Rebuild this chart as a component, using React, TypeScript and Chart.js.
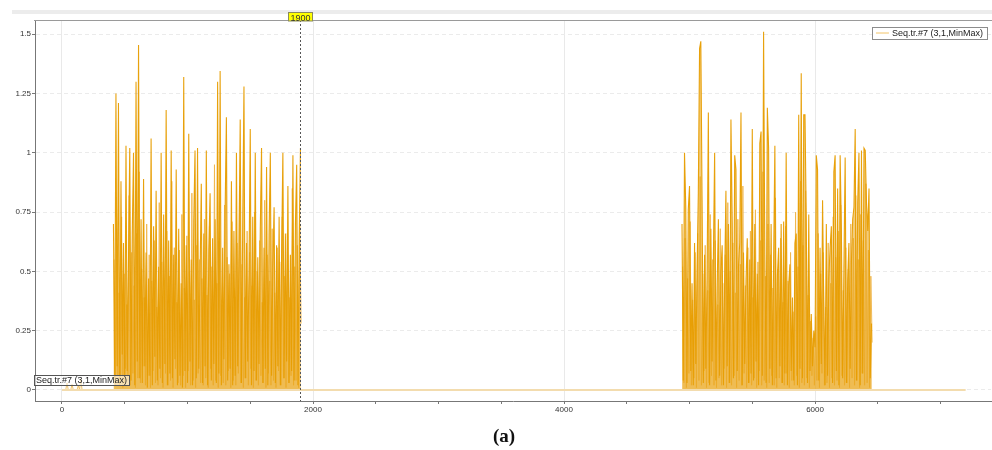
import React, { useEffect, useRef } from 'react';
import { Chart, registerables } from 'chart.js';

Chart.register(...registerables);

// ---- data ----
const seriesName = 'Seq.tr.#7 (3,1,MinMax)';
const sampleStep = 10;

const preStart = 0;
const preValues = [
  0, 0, 0, 0, 0.03, 0, 0, 0, 0.025, 0, 0, 0, 0, 0.02, 0, 0.045, 0, 0, 0, 0,
  0, 0, 0, 0, 0, 0, 0, 0, 0, 0, 0, 0, 0, 0, 0, 0, 0, 0, 0, 0, 0,
];

// max envelope (darker trace)
const burst1Start = 410;
const burst1Values = [
  0.70, 0.05, 1.25, 0.10, 1.21, 0.02, 0.88, 0.15, 0.62, 0.03,
  1.03, 0.08, 0.55, 1.02, 0.04, 0.66, 1.00, 0.02, 1.30, 0.12,
  1.455, 0.05, 0.72, 0.03, 0.89, 0.10, 0.58, 0.01, 0.47, 0.06,
  1.06, 0.02, 0.69, 0.14, 0.84, 0.04, 0.52, 0.09, 1.00, 0.03,
  0.74, 0.11, 1.18, 0.02, 0.63, 0.07, 1.01, 0.05, 0.57, 0.13,
  0.93, 0.02, 0.68, 0.06, 0.45, 0.01, 1.32, 0.08, 0.61, 0.03,
  1.08, 0.12, 0.55, 0.02, 0.71, 1.01, 0.05, 1.02, 0.09, 0.48,
  0.87, 0.03, 0.66, 0.10, 1.01, 0.02, 0.59, 0.83, 0.04, 0.64,
  0.11, 0.72, 0.03, 1.30, 0.07, 1.345, 0.02, 0.60, 0.13, 0.76,
  1.15, 0.04, 0.53, 0.09, 0.88, 0.02, 0.67, 0.06, 1.00, 0.10,
  0.58, 1.14, 0.03, 0.70, 1.28, 0.05, 0.62, 0.12, 0.49, 1.10,
  0.02, 0.73, 0.08, 1.00, 0.04, 0.56, 0.11, 0.68, 1.02, 0.03,
  0.60, 0.09, 0.94, 0.02, 0.65, 1.00, 0.06, 0.52, 0.77, 0.03,
  0.61, 0.10, 0.73, 0.02, 0.58, 1.00, 0.05, 0.66, 0.12, 0.86,
  0.03, 0.57, 0.08, 0.99, 0.04, 0.70, 0.95, 0.02, 0.63, 1.02,
];

const burst2Start = 4940;
const burst2Values = [
  0.70, 0.04, 1.00, 0.77, 0.03, 0.76, 0.86, 0.08, 0.45, 0.02,
  0.62, 0.11, 0.50, 0.83, 1.44, 1.47, 0.80, 0.03, 0.57, 0.09,
  0.48, 1.17, 0.02, 0.68, 0.12, 0.55, 1.00, 0.04, 0.43, 0.72,
  0.06, 0.50, 0.61, 0.02, 0.47, 0.84, 0.10, 0.70, 0.03, 1.14,
  0.71, 0.05, 0.99, 0.93, 0.08, 0.52, 0.62, 1.17, 0.02, 0.58,
  0.11, 0.46, 0.64, 0.03, 0.55, 0.07, 1.10, 0.04, 0.70, 0.12,
  0.49, 0.02, 1.04, 1.09, 0.06, 1.51, 0.57, 0.03, 1.19, 1.02,
  0.09, 0.70, 0.02, 0.54, 1.03, 0.05, 0.48, 0.60, 0.10, 0.70,
  0.03, 0.71, 0.07, 1.00, 0.02, 0.44, 0.53, 0.08, 0.39, 0.04,
  0.62, 0.66, 0.02, 1.16, 0.09, 1.335, 0.05, 1.16, 1.16, 0.72,
  0.03, 0.74, 0.08, 0.32, 0.10, 0.25, 0.18, 0.99, 0.93, 0.04,
  0.60, 0.11, 0.80, 0.35, 0.02, 0.70, 0.06, 0.47, 0.60, 0.69,
  0.03, 0.92, 0.99, 0.08, 0.85, 0.02, 0.99, 0.67, 0.05, 0.51,
  0.98, 0.03, 0.46, 0.62, 0.09, 0.54, 0.72, 0.77, 1.10, 0.04,
  0.79, 1.00, 0.02, 1.01, 0.07, 1.02, 1.01, 0.79, 0.67, 0.85,
  0.05, 0.28,
];

// interleaved lighter trace
const burst1bStart = 415;
const burst1bValues = [
  0.55, 0.02, 0.68, 0.06, 0.41, 0.03, 0.73, 0.01, 0.49, 0.09,
  0.36, 0.04, 0.82, 0.02, 0.58, 0.07, 0.44, 0.01, 0.66, 0.05,
  0.92, 0.03, 0.51, 0.10, 0.39, 0.02, 0.70, 0.06, 0.57, 0.01,
  0.46, 0.08, 0.63, 0.03, 0.35, 0.02, 0.79, 0.05, 0.54, 0.01,
  0.42, 0.07, 0.67, 0.02, 0.48, 0.04, 0.88, 0.01, 0.60, 0.09,
  0.37, 0.03, 0.59, 0.02, 0.74, 0.06, 0.43, 0.01, 0.65, 0.08,
  0.50, 0.02, 0.83, 0.04, 0.38, 0.01, 0.61, 0.07, 0.55, 0.03,
  0.47, 0.02, 0.72, 0.05, 0.40, 0.01, 0.69, 0.09, 0.52, 0.02,
  0.95, 0.04, 0.45, 0.01, 0.64, 0.06, 0.36, 0.03, 0.78, 0.02,
  0.56, 0.08, 0.49, 0.01, 0.71, 0.04, 0.42, 0.02, 0.62, 0.07,
  0.86, 0.03, 0.53, 0.01, 0.39, 0.05, 0.67, 0.02, 0.58, 0.09,
  0.44, 0.01, 0.75, 0.04, 0.50, 0.02, 0.63, 0.06, 0.37, 0.03,
  0.80, 0.01, 0.57, 0.07, 0.46, 0.02, 0.68, 0.04, 0.41, 0.01,
  0.60, 0.08, 0.54, 0.02, 0.73, 0.05, 0.48, 0.01, 0.66, 0.03,
  0.39, 0.06, 0.85, 0.02, 0.52, 0.04, 0.61, 0.01, 0.70, 0.28,
];

const burst2bStart = 4945;
const burst2bValues = [
  0.52, 0.03, 0.64, 0.01, 0.47, 0.07, 0.71, 0.02, 0.38, 0.05,
  0.58, 0.01, 0.66, 0.04, 0.90, 0.02, 0.49, 0.08, 0.61, 0.01,
  0.42, 0.03, 0.74, 0.06, 0.55, 0.02, 0.63, 0.01, 0.36, 0.05,
  0.68, 0.02, 0.45, 0.09, 0.57, 0.01, 0.79, 0.03, 0.50, 0.02,
  0.62, 0.06, 0.41, 0.01, 0.72, 0.04, 0.53, 0.02, 0.86, 0.07,
  0.44, 0.01, 0.60, 0.03, 0.67, 0.02, 0.39, 0.05, 0.76, 0.01,
  0.54, 0.08, 0.63, 0.02, 0.92, 0.04, 0.48, 0.01, 0.70, 0.03,
  0.57, 0.06, 0.43, 0.02, 0.81, 0.01, 0.51, 0.05, 0.64, 0.03,
  0.37, 0.02, 0.69, 0.07, 0.46, 0.01, 0.58, 0.04, 0.33, 0.02,
  0.75, 0.06, 0.52, 0.01, 0.88, 0.03, 0.61, 0.02, 0.84, 0.05,
  0.40, 0.01, 0.29, 0.06, 0.22, 0.02, 0.31, 0.04, 0.66, 0.01,
  0.49, 0.07, 0.58, 0.02, 0.35, 0.03, 0.62, 0.01, 0.45, 0.05,
  0.73, 0.02, 0.56, 0.04, 0.67, 0.01, 0.78, 0.06, 0.42, 0.02,
  0.60, 0.03, 0.51, 0.01, 0.70, 0.05, 0.64, 0.02, 0.82, 0.04,
  0.55, 0.01, 0.74, 0.07, 0.63, 0.02, 0.87, 0.03, 0.59, 0.01,
  0.48, 0.20,
];

const baselineXs = [0, 7200];
const baselineYs = [0, 0];
const markerX = 1900;
const markerLabel = '1900';
const xRange = [-215, 7402];
const yRange = [-0.0464, 1.56];
const xTickValues = [0, 500, 1000, 1500, 2000, 2500, 3000, 3500, 4000, 4500, 5000, 5500, 6000, 6500, 7000];
const xTickLabels = ['0', '', '', '', '2000', '', '', '', '4000', '', '', '', '6000', '', ''];
const yTickValues = [0, 0.25, 0.5, 0.75, 1, 1.25, 1.5];
const yTickLabels = ['0', '0.25', '0.5', '0.75', '1', '1.25', '1.5'];
const captionText = 'a';

const toPoints = (start: number, vals: number[]) =>
  vals.map((v, i) => ({ x: start + i * sampleStep, y: v }));

export default function App() {
  const ref = useRef<HTMLCanvasElement | null>(null);

  useEffect(() => {
    if (!ref.current) return;
    document.body.style.margin = '0';

    const overlay = {
      id: 'overlay',
      beforeDraw(chart: any) {
        const ctx = chart.ctx;
        ctx.save();
        ctx.fillStyle = '#ffffff';
        ctx.fillRect(0, 0, chart.width, chart.height);
        ctx.restore();
      },
      afterDatasetsDraw(chart: any) {
        const ctx = chart.ctx;
        const { left, right, top, bottom } = chart.chartArea;
        const xs = chart.scales.x;
        ctx.save();
        // top band
        ctx.fillStyle = '#ececec';
        ctx.fillRect(12, 10, chart.width - 12, 4);
        // top border
        ctx.strokeStyle = '#9a9a9a';
        ctx.lineWidth = 1;
        ctx.beginPath();
        ctx.moveTo(left - 1, top + 0.5);
        ctx.lineTo(chart.width, top + 0.5);
        ctx.stroke();
        // marker line
        const mx = Math.round(xs.getPixelForValue(markerX)) + 0.5;
        ctx.strokeStyle = '#555555';
        ctx.setLineDash([2, 2]);
        ctx.beginPath();
        ctx.moveTo(mx, top);
        ctx.lineTo(mx, bottom);
        ctx.stroke();
        ctx.setLineDash([]);
        // marker label
        ctx.font = '9px "Liberation Sans"';
        const tw = ctx.measureText(markerLabel).width;
        const bw = tw + 4;
        ctx.fillStyle = '#ffff00';
        ctx.fillRect(mx - bw / 2, 12.5, bw, 8.5);
        ctx.strokeStyle = '#8a8a5a';
        ctx.strokeRect(Math.round(mx - bw / 2) + 0.5, 12.5, Math.round(bw), 8.5);
        ctx.save();
        ctx.beginPath();
        ctx.rect(mx - bw / 2, 13, bw, 8);
        ctx.clip();
        ctx.fillStyle = '#333';
        ctx.textAlign = 'center';
        ctx.textBaseline = 'alphabetic';
        ctx.fillText(markerLabel, mx, 20.5);
        ctx.restore();

        // legend box top-right
        ctx.font = '9px "Liberation Sans"';
        const lw = ctx.measureText(seriesName).width;
        const lbx = right - 4 - (lw + 24);
        const lby = top + 7.5;
        ctx.fillStyle = '#ffffff';
        ctx.fillRect(lbx, lby, lw + 24, 12);
        ctx.strokeStyle = '#8c8c8c';
        ctx.strokeRect(Math.round(lbx) + 0.5, lby, Math.round(lw + 24), 12);
        ctx.strokeStyle = '#f2c469';
        ctx.beginPath();
        ctx.moveTo(lbx + 4, lby + 5.5);
        ctx.lineTo(lbx + 17, lby + 5.5);
        ctx.stroke();
        ctx.fillStyle = '#222';
        ctx.textAlign = 'left';
        ctx.textBaseline = 'middle';
        ctx.fillText(seriesName, lbx + 20, lby + 6.5);

        // bottom-left label
        const bx = left - 1;
        const by = bottom - 26;
        ctx.fillStyle = 'rgba(255,255,255,0.6)';
        ctx.fillRect(bx, by, lw + 4, 10);
        ctx.strokeStyle = '#555';
        ctx.strokeRect(Math.round(bx) + 0.5, by + 0.5, Math.round(lw + 4), 10);
        ctx.fillStyle = '#222';
        ctx.fillText(seriesName, bx + 2, by + 5.8);

        // caption
        ctx.fillStyle = '#111';
        ctx.textBaseline = 'alphabetic';
        ctx.textAlign = 'center';
        ctx.font = 'bold 19px "Liberation Serif"';
        ctx.fillText('(' + captionText + ')', 504, 442);
        ctx.restore();
      },
    };

    const mainStyle = {
      borderColor: 'rgba(231,157,0,0.95)',
      backgroundColor: 'rgba(234,163,14,0.55)',
      borderWidth: 1.1,
      pointRadius: 0,
      fill: 'origin',
    };
    const lightStyle = {
      borderColor: 'rgba(238,180,70,0.85)',
      backgroundColor: 'rgba(238,178,60,0.45)',
      borderWidth: 1,
      pointRadius: 0,
      fill: 'origin',
    };

    const chart = new Chart(ref.current, {
      type: 'line',
      data: {
        datasets: [
          {
            label: 'baseline',
            data: baselineXs.map((x, i) => ({ x, y: baselineYs[i] })),
            borderColor: '#f3dcae',
            borderWidth: 2,
            pointRadius: 0,
          },
          {
            label: 'pre',
            data: toPoints(preStart, preValues),
            borderColor: 'rgba(236,178,60,0.75)',
            borderWidth: 1,
            pointRadius: 0,
          },
          { label: seriesName, data: toPoints(burst1Start, burst1Values), ...mainStyle },
          { label: seriesName + ' 2', data: toPoints(burst2Start, burst2Values), ...mainStyle },
          { label: seriesName + ' 1b', data: toPoints(burst1bStart, burst1bValues), ...lightStyle },
          { label: seriesName + ' 2b', data: toPoints(burst2bStart, burst2bValues), ...lightStyle },
        ],
      },
      options: {
        animation: false,
        responsive: false,
        maintainAspectRatio: false,
        layout: { padding: { top: 20, right: 1, left: 0, bottom: 0 } },
        plugins: { legend: { display: false }, tooltip: { enabled: false } },
        elements: { line: { tension: 0 } },
        scales: {
          x: {
            type: 'linear',
            min: xRange[0],
            max: xRange[1],
            afterBuildTicks: (s: any) => {
              s.ticks = xTickValues.map((v) => ({ value: v }));
            },
            afterFit: (s: any) => {
              s.height = 49;
            },
            ticks: {
              autoSkip: false,
              maxRotation: 0,
              padding: 1,
              color: '#333',
              font: { family: 'Liberation Sans', size: 8 },
              callback: (_v: any, i: number) => xTickLabels[i],
            },
            grid: {
              color: (c: any) => (c.tick && xTickLabels[c.index] ? '#e9e9e9' : 'rgba(0,0,0,0)'),
              tickColor: '#777',
              tickLength: 3,
            },
            border: { color: '#777', width: 1 },
          },
          y: {
            type: 'linear',
            min: yRange[0],
            max: yRange[1],
            afterBuildTicks: (s: any) => {
              s.ticks = yTickValues.map((v) => ({ value: v }));
            },
            afterFit: (s: any) => {
              s.width = 35;
            },
            ticks: {
              padding: 1,
              color: '#333',
              font: { family: 'Liberation Sans', size: 8 },
              callback: (_v: any, i: number) => yTickLabels[i],
            },
            grid: {
              color: '#ebebeb',
              tickColor: '#777',
              tickLength: 3,
            },
            border: { color: '#777', width: 1, dash: [4, 3] },
          },
        },
      },
      plugins: [overlay],
    });
    return () => chart.destroy();
  }, []);

  return (
    <div style={{ position: 'absolute', left: 0, top: 0, width: 992, height: 450 }}>
      <canvas ref={ref} width={992} height={450} style={{ display: 'block' }} />
    </div>
  );
}
